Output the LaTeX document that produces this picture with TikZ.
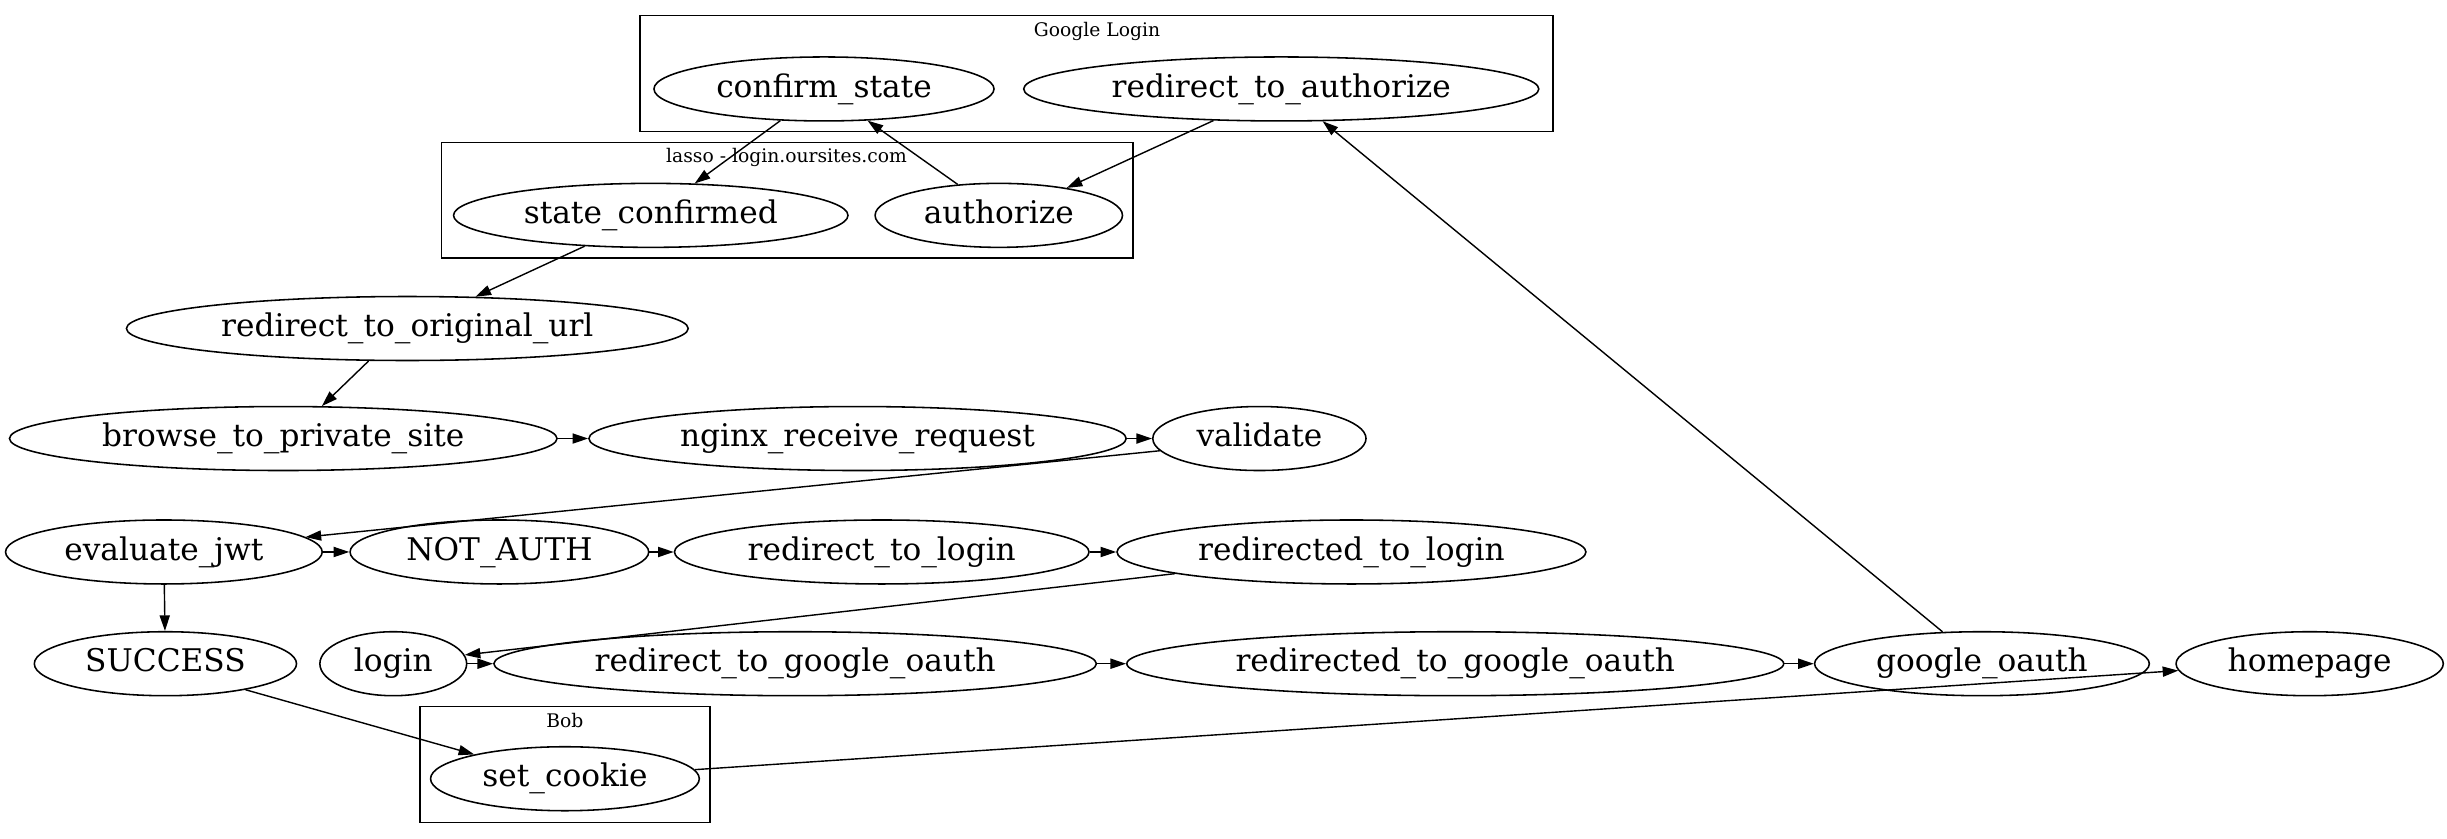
\documentclass[tikz,border=0pt]{standalone}
\usepackage{fontspec}
\setmainfont{DejaVu Serif}
\usetikzlibrary{shapes.geometric, arrows.meta}

\begin{document}
\begin{tikzpicture}[x=1pt, y=-1pt,
		state/.style = {draw, ellipse, line width=1pt, inner xsep=8pt, inner ysep=0pt, minimum height=41pt, text height=15pt, text depth=4.5pt, font=\fontsize{20}{24}\selectfont},
		cluster/.style = {draw, line width=1pt},
		cluster label/.style = {inner sep=0pt, font=\fontsize{12}{14}\selectfont},
		flow/.style = {line width=0.9pt, -{Triangle[length=10pt, width=6.5pt]}}]
		%page size
		\useasboundingbox (0,0) rectangle (1568,537.6);
		
		%clusters
		\draw [cluster] (410,10) rectangle (995,84.4);
		\node [cluster label] (google label) at (703,20) {Google Login};
		\draw [cluster] (283,91.4) rectangle (726,165.5);
		\node [cluster label] (lasso label) at (504,101) {lasso - login.oursites.com};
		\draw [cluster] (269,452.6) rectangle (455,527);
		\node [cluster label] (bob label) at (362,462) {Bob};
		
		%states
		\node [state] (confirm state) at (528,57) {confirm\_state};
		\node [state] (redirect to authorize) at (821,57) {redirect\_to\_authorize};
		\node [state] (state confirmed) at (417,138) {state\_confirmed};
		\node [state] (authorize) at (640,138) {authorize};
		\node [state] (redirect to original url) at (261,210.5) {redirect\_to\_original\_url};
		\node [state] (browse) at (181.5,281) {browse\_to\_private\_site};
		\node [state] (nginx) at (549.5,281) {nginx\_receive\_request};
		\node [state] (validate) at (807,281) {validate};
		\node [state] (evaluate jwt) at (105,353.7) {evaluate\_jwt};
		\node [state] (not auth) at (320,353.7) {NOT\_AUTH};
		\node [state] (redirect to login) at (565,353.7) {redirect\_to\_login};
		\node [state] (redirected to login) at (866,353.7) {redirected\_to\_login};
		\node [state] (success) at (106,425.3) {SUCCESS};
		\node [state] (login) at (252,425.3) {login};
		\node [state] (redirect to google) at (509.5,425.3) {redirect\_to\_google\_oauth};
		\node [state] (redirected to google) at (932.5,425.3) {redirected\_to\_google\_oauth};
		\node [state] (google oauth) at (1270,425.3) {google\_oauth};
		\node [state] (homepage) at (1480,425.3) {homepage};
		\node [state] (set cookie) at (362,499) {set\_cookie};
		
		%flows
		\draw [flow] (confirm state.216) -- (state confirmed.36);
		\draw [flow] (authorize.143.5) -- (confirm state.324);
		\draw [flow] (redirect to authorize.205.3) -- (authorize.22.8);
		\draw [flow] (state confirmed.205.5) -- (redirect to original url.25.3);
		\draw [flow] (redirect to original url.220.8) -- (browse.40.4);
		\draw [flow] (browse) -- (nginx);
		\draw [flow] (nginx) -- (validate);
		\draw [flow] (validate.187) -- (evaluate jwt.6.5);
		\draw [flow] (evaluate jwt) -- (not auth);
		\draw [flow] (not auth) -- (redirect to login);
		\draw [flow] (redirect to login) -- (redirected to login);
		\draw [flow] (evaluate jwt) -- (success);
		\draw [flow] (redirected to login.187) -- (login.7.9);
		\draw [flow] (login) -- (redirect to google);
		\draw [flow] (redirect to google) -- (redirected to google);
		\draw [flow] (redirected to google) -- (google oauth);
		\draw [flow] (google oauth.141.3) -- (redirect to authorize.322.8);
		\draw [flow] (success.342.8) -- (set cookie.165.2);
		\draw [flow] (set cookie.4.3) -- (homepage.183.6);
\end{tikzpicture}
\end{document}
